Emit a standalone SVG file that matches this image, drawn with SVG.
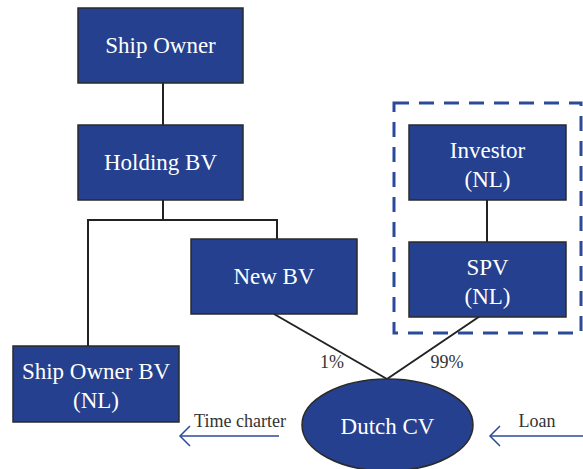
<svg xmlns="http://www.w3.org/2000/svg" width="583" height="469" viewBox="0 0 583 469">
<style>
.box{fill:#24408e;stroke:#2a2a2a;stroke-width:1.5}
.t{font-family:"Liberation Serif",serif;font-size:23px;fill:#ffffff;text-anchor:middle}
.l{font-family:"Liberation Serif",serif;font-size:18px;fill:#333333;text-anchor:middle}
.c{stroke:#222;stroke-width:2;fill:none}
.a{stroke:#2a4a9a;stroke-width:1.5;fill:none}
</style>
<rect width="583" height="469" fill="#ffffff"/>
<g id="group-box">
<rect x="394" y="103" width="187" height="230" fill="none" stroke="#2a4a9a" stroke-width="3" stroke-dasharray="15,10"/>
</g>
<g id="connectors">
<line class="c" x1="163" y1="83" x2="163" y2="125"/>
<polyline class="c" points="163,200 163,220 88,220 88,346"/>
<polyline class="c" points="163,220 277,220 277,239"/>
<line class="c" x1="487" y1="200" x2="487" y2="242"/>
<line class="c" x1="274" y1="314" x2="387" y2="379"/>
<line class="c" x1="489" y1="310" x2="387" y2="379"/>
<polyline class="a" points="279,436 181,436"/>
<polyline class="a" points="190,426 180,436 190,446"/>
<polyline class="a" points="583,436 491,436"/>
<polyline class="a" points="500,426 490,436 500,446"/>
</g>
<g id="ship-owner"><rect class="box" x="78" y="8" width="165" height="75"/><text class="t" x="160.5" y="53">Ship Owner</text></g>
<g id="holding-bv"><rect class="box" x="78" y="125" width="165" height="75"/><text class="t" x="160.5" y="170">Holding BV</text></g>
<g id="new-bv"><rect class="box" x="191" y="239" width="166" height="75"/><text class="t" x="274" y="284">New BV</text></g>
<g id="ship-owner-bv"><rect class="box" x="13" y="346" width="166" height="76"/><text class="t" x="96" y="379">Ship Owner BV</text><text class="t" x="96" y="408">(NL)</text></g>
<g id="investor"><rect class="box" x="409" y="125" width="157" height="75"/><text class="t" x="487.5" y="158">Investor</text><text class="t" x="487.5" y="187">(NL)</text></g>
<g id="spv"><rect class="box" x="409" y="242" width="157" height="75"/><text class="t" x="487.5" y="275">SPV</text><text class="t" x="487.5" y="304">(NL)</text></g>
<g id="dutch-cv"><ellipse class="box" cx="387.5" cy="425" rx="85.5" ry="46"/><text class="t" x="387.5" y="434">Dutch CV</text></g>
<g id="labels">
<text class="l" x="332" y="368">1%</text>
<text class="l" x="447" y="368">99%</text>
<text class="l" x="240" y="427">Time charter</text>
<text class="l" x="537" y="427">Loan</text>
</g>
</svg>
